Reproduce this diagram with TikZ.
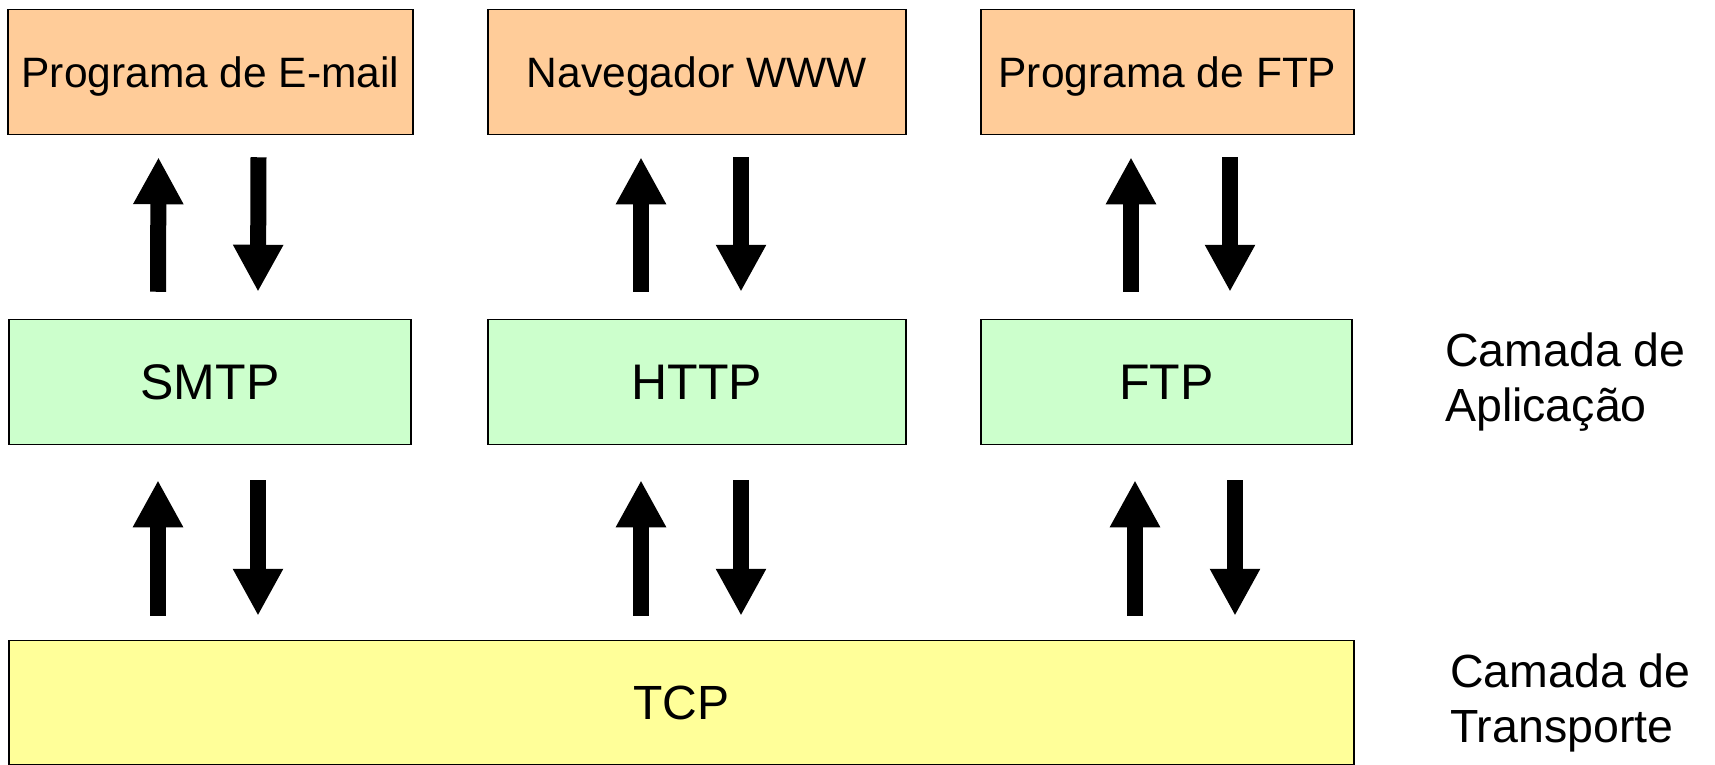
\documentclass[tikz,border=0pt]{standalone}
\usepackage{fontspec}
\setmainfont{Liberation Sans}
\usetikzlibrary{arrows.meta,calc}
\definecolor{apporange}{HTML}{FFCC99}
\definecolor{protogreen}{HTML}{CCFFCC}
\definecolor{tcpyellow}{HTML}{FFFF99}
\tikzset{
  box/.style={draw=black, line width=1.5pt, rectangle, inner sep=0pt, text depth=0pt},
  progbox/.style={box, fill=apporange, minimum height=125pt, text height=30.4pt,
    font=\fontsize{42.5}{50}\selectfont},
  protobox/.style={box, fill=protogreen, minimum height=125pt, text height=35.8pt,
    font=\fontsize{50}{60}\selectfont},
  tcpbox/.style={box, fill=tcpyellow, minimum height=124pt, text height=34.4pt,
    font=\fontsize{48}{56}\selectfont},
  layerlabel/.style={anchor=north west, inner sep=0pt, align=left,
    font=\fontsize{46.5}{55}\selectfont},
  blockarrow/.style={line width=16pt, -{Triangle[length=47pt,width=47pt]}}
}
\begin{document}
\begin{tikzpicture}[x=1pt,y=-1pt]
\useasboundingbox (0,0) rectangle (1715,764);
% application programs
\node[progbox, minimum width=405pt] (email) at (210.5,72) {Programa de E-mail};
\node[progbox, minimum width=418pt] (nav) at (697,72) {Navegador WWW};
\node[progbox, minimum width=373pt] (ftpprog) at (1167.5,72) {Programa de FTP};
% protocols
\node[protobox, minimum width=402pt] (smtp) at (210,382) {SMTP};
\node[protobox, minimum width=418pt] (http) at (697,382) {HTTP};
\node[protobox, minimum width=371pt] (ftp) at (1166.5,382) {FTP};
% transport
\node[tcpbox, minimum width=1345pt] (tcp) at (681.5,702.5) {TCP};
% labels
\node[layerlabel] (lapp) at (1445,332.7) {Camada de\\Aplicação};
\node[layerlabel] (ltra) at (1450,653.7) {Camada de\\Transporte};
% arrows between programs and protocols
\draw[blockarrow] ($(smtp.north)+(-52,-27)$) -- ($(email.south)+(-52,22)$);
\draw[blockarrow] ($(email.south)+(48,22)$) -- ($(smtp.north)+(48,-27)$);
\draw[blockarrow] ($(http.north)+(-56,-27)$) -- ($(nav.south)+(-56,22)$);
\draw[blockarrow] ($(nav.south)+(44,22)$) -- ($(http.north)+(44,-27)$);
\draw[blockarrow] ($(ftp.north)+(-35.5,-27)$) -- ($(ftpprog.south)+(-36.5,22)$);
\draw[blockarrow] ($(ftpprog.south)+(62.5,22)$) -- ($(ftp.north)+(63.5,-27)$);
% arrows between protocols and TCP
\draw[blockarrow] ($(smtp.south |- tcp.north)+(-52,-24)$) -- ($(smtp.south)+(-52,35)$);
\draw[blockarrow] ($(smtp.south)+(48,35)$) -- ($(smtp.south |- tcp.north)+(48,-24)$);
\draw[blockarrow] ($(http.south |- tcp.north)+(-56,-24)$) -- ($(http.south)+(-56,35)$);
\draw[blockarrow] ($(http.south)+(44,35)$) -- ($(http.south |- tcp.north)+(44,-24)$);
\draw[blockarrow] ($(ftp.south |- tcp.north)+(-31.5,-24)$) -- ($(ftp.south)+(-31.5,35)$);
\draw[blockarrow] ($(ftp.south)+(68.5,35)$) -- ($(ftp.south |- tcp.north)+(68.5,-24)$);
\end{tikzpicture}
\end{document}
